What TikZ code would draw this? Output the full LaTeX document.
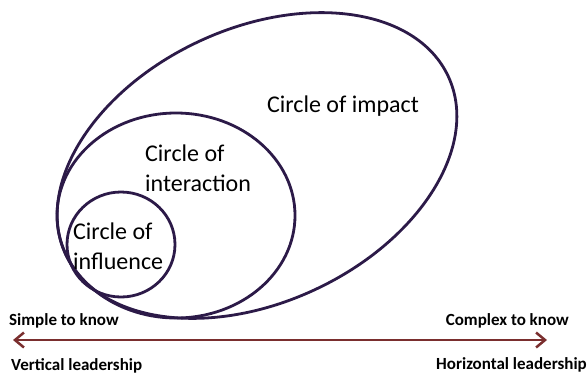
\documentclass[tikz,border=0pt]{standalone}
\usepackage{fontspec}
\setmainfont{Carlito}
\usetikzlibrary{shapes.geometric,arrows.meta}
\definecolor{ringcol}{HTML}{2C1A48}
\definecolor{axiscol}{HTML}{7A2E2E}
\begin{document}
\begin{tikzpicture}[x=1pt,y=-1pt,
  ring/.style={ellipse, draw=ringcol, line width=2.8pt, inner sep=0pt},
  ringlabel/.style={font=\fontsize{24}{30}\selectfont, align=left, inner sep=0pt},
  axislabel/.style={font=\fontsize{17}{20}\selectfont\bfseries, inner sep=0pt},
  axisline/.style={draw=axiscol, line width=2.5pt, {Straight Barb[length=9pt,width=15pt,line width=2.5pt]}-{Straight Barb[length=9pt,width=15pt,line width=2.5pt]}}]
  \useasboundingbox (0,0) rectangle (588,376);

  % nested rings
  \node[ring, minimum width=422pt, minimum height=274pt, rotate=25] (impact) at (257,165.5) {};
  \node[ring, minimum width=238pt, minimum height=205pt] (interaction) at (176,215.5) {};
  \node[ring, minimum width=108pt, minimum height=105pt] (influence) at (121,244.5) {};

  % ring captions
  \node[ringlabel] (impacttext) at (343,106) {Circle of impact};
  \node[ringlabel, anchor=west] (interactiontext) at (145,168) {Circle of\\interaction};
  \node[ringlabel, anchor=west] (influencetext) at (73,246) {Circle of\\influence};

  % horizontal axis
  \coordinate (axisL) at (13,340);
  \coordinate (axisR) at (547,340);
  \draw[axisline] (axisL) -- (axisR);

  \node[axislabel, anchor=west] (simple) at (9,321) {Simple to know};
  \node[axislabel, anchor=east] (complex) at (569,321) {Complex to know};
  \node[axislabel, anchor=west] (vertical) at (11,366) {Vertical leadership};
  \node[axislabel, anchor=east] (horizontal) at (587,365) {Horizontal leadership};
\end{tikzpicture}
\end{document}
